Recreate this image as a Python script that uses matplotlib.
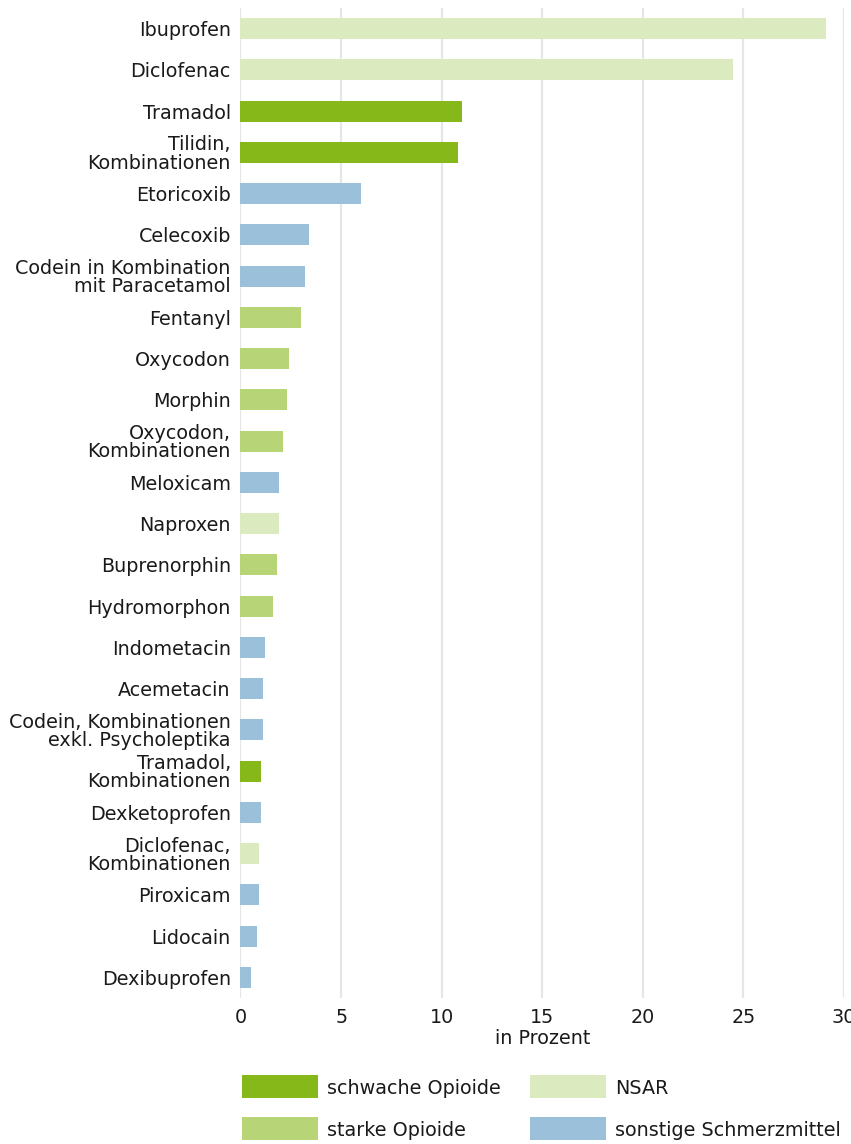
import matplotlib.pyplot as plt
from matplotlib.patches import Rectangle

plt.rcParams["font.family"] = ["DejaVu Sans"]

# data
drugs = [
    "Ibuprofen", "Diclofenac", "Tramadol", "Tilidin,\nKombinationen",
    "Etoricoxib", "Celecoxib", "Codein in Kombination\nmit Paracetamol",
    "Fentanyl", "Oxycodon", "Morphin", "Oxycodon,\nKombinationen",
    "Meloxicam", "Naproxen", "Buprenorphin", "Hydromorphon", "Indometacin",
    "Acemetacin", "Codein, Kombinationen\nexkl. Psycholeptika",
    "Tramadol,\nKombinationen", "Dexketoprofen", "Diclofenac,\nKombinationen",
    "Piroxicam", "Lidocain", "Dexibuprofen",
]
shares = [
    29.1, 24.5, 11.0, 10.8, 6.0, 3.4, 3.2, 3.0, 2.4, 2.3, 2.1, 1.9, 1.9,
    1.8, 1.6, 1.2, 1.1, 1.1, 1.0, 1.0, 0.9, 0.9, 0.8, 0.5,
]
groups = [
    "NSAR", "NSAR", "schwach", "schwach", "sonstige", "sonstige", "sonstige",
    "stark", "stark", "stark", "stark", "sonstige", "NSAR", "stark", "stark",
    "sonstige", "sonstige", "sonstige", "schwach", "sonstige", "NSAR",
    "sonstige", "sonstige", "sonstige",
]
group_colors = {
    "schwach": "#86b81a",
    "stark": "#b7d477",
    "NSAR": "#dcebbf",
    "sonstige": "#9bc1da",
}
legend_labels = {
    "schwach": "schwache Opioide",
    "stark": "starke Opioide",
    "NSAR": "NSAR",
    "sonstige": "sonstige Schmerzmittel",
}
legend_order = ["schwach", "stark", "NSAR", "sonstige"]
x_ticks = [0, 5, 10, 15, 20, 25, 30]

FS = 13.8
W, H = 851, 1144
fig = plt.figure(figsize=(W / 100, H / 100), dpi=100)
ax = fig.add_axes([240.5 / W, 1 - 998 / H, (844 - 240.5) / W, 990 / H])

pos = list(range(len(drugs)))
ax.barh(pos, shares, height=0.51, color=[group_colors[g] for g in groups], zorder=2)

ax.set_ylim(len(drugs) - 0.5, -0.5)
ax.set_xlim(0, 30)
ax.set_yticks(pos)
ax.set_yticklabels(drugs, fontsize=FS, color="#1a1a1a")
for lbl in ax.get_yticklabels():
    lbl.set_linespacing(0.95)
ax.set_xticks(x_ticks)
ax.set_xticklabels([str(t) for t in x_ticks], fontsize=FS, color="#1a1a1a")
ax.tick_params(axis="both", length=0)
ax.tick_params(axis="y", pad=7)
ax.tick_params(axis="x", pad=7)
ax.set_xlabel("in Prozent", fontsize=FS, color="#1a1a1a", labelpad=2)

ax.grid(axis="x", color="#e6e6e6", linewidth=1.6, zorder=0)
for s in ax.spines.values():
    s.set_visible(False)

# manual legend, two columns
box_x = [242, 530]
box_y = [1075, 1117]
for i, key in enumerate(legend_order):
    col, row = divmod(i, 2)
    x0, y0 = box_x[col], box_y[row]
    fig.add_artist(Rectangle((x0 / W, 1 - (y0 + 23) / H), 76 / W, 23 / H,
                             transform=fig.transFigure,
                             facecolor=group_colors[key], edgecolor="none"))
    fig.text((x0 + 85) / W, 1 - (y0 + 14) / H, legend_labels[key],
             fontsize=FS, color="#1a1a1a", va="center", ha="left")

fig.savefig("out.png", dpi=100)
